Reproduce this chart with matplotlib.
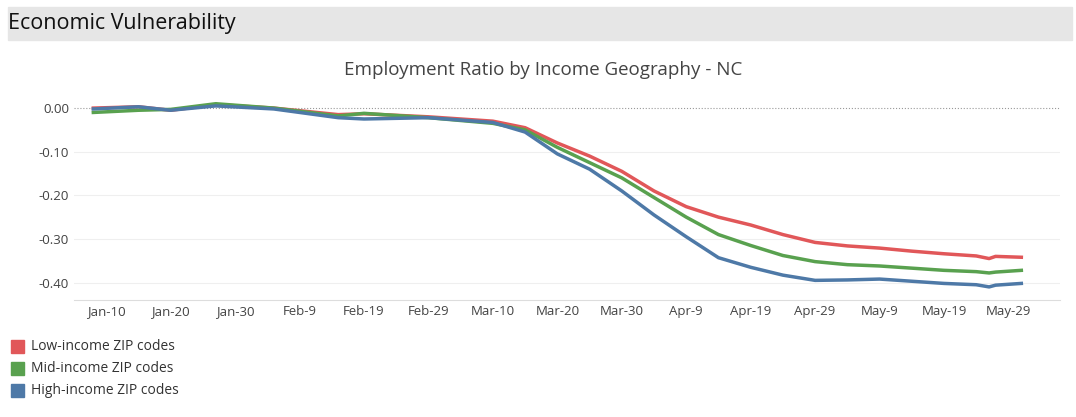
import matplotlib
matplotlib.use("Agg")
import matplotlib.pyplot as plt
from matplotlib.patches import Rectangle
import datetime as dt

dates = ["2020-01-08","2020-01-15","2020-01-20","2020-01-27","2020-02-05","2020-02-15","2020-02-19","2020-02-29",
         "2020-03-10","2020-03-15","2020-03-20","2020-03-25","2020-03-30","2020-04-04","2020-04-09","2020-04-14",
         "2020-04-19","2020-04-24","2020-04-29","2020-05-04","2020-05-09","2020-05-14","2020-05-19","2020-05-24",
         "2020-05-26","2020-05-27","2020-05-31"]
low = [0.0,0.003,-0.005,0.008,0.0,-0.015,-0.013,-0.02,-0.03,-0.045,-0.08,-0.11,-0.145,-0.19,-0.226,-0.25,
       -0.268,-0.29,-0.308,-0.316,-0.321,-0.328,-0.334,-0.339,-0.345,-0.34,-0.342]
mid = [-0.01,-0.005,-0.003,0.01,0.0,-0.018,-0.012,-0.022,-0.035,-0.05,-0.09,-0.125,-0.16,-0.205,-0.25,-0.29,
       -0.315,-0.338,-0.352,-0.359,-0.362,-0.367,-0.372,-0.375,-0.378,-0.376,-0.372]
high = [-0.002,0.003,-0.005,0.005,-0.002,-0.022,-0.025,-0.022,-0.033,-0.055,-0.105,-0.14,-0.19,-0.245,-0.295,-0.343,
        -0.365,-0.383,-0.395,-0.394,-0.392,-0.397,-0.402,-0.405,-0.41,-0.406,-0.402]
series = [("Low-income ZIP codes", low, "#e15759"),
          ("Mid-income ZIP codes", mid, "#59a14f"),
          ("High-income ZIP codes", high, "#4e79a7")]
tick_dates = ["2020-01-10","2020-01-20","2020-01-30","2020-02-09","2020-02-19","2020-02-29","2020-03-10",
              "2020-03-20","2020-03-30","2020-04-09","2020-04-19","2020-04-29","2020-05-09","2020-05-19","2020-05-29"]
tick_labels = ["Jan-10","Jan-20","Jan-30","Feb-9","Feb-19","Feb-29","Mar-10","Mar-20","Mar-30",
               "Apr-9","Apr-19","Apr-29","May-9","May-19","May-29"]
yticks = [0.0,-0.1,-0.2,-0.3,-0.4]

plt.rcParams["font.family"] = "Open Sans"
fig = plt.figure(figsize=(10.76,4.17), dpi=100)
fig.patches.append(Rectangle((8/1076, 1-40/417), 1064/1076, 33/417, transform=fig.transFigure, color="#e6e6e6", zorder=0))
fig.text(8/1076, 1-24/417, "Economic Vulnerability", fontsize=15.5, va="center", color="#111")
fig.text(0.505, 1-70/417, "Employment Ratio by Income Geography - NC", fontsize=13.5, ha="center", va="center", color="#444")

ax = fig.add_axes([74/1076, 1-300/417, 986/1076, 205/417])
d = [dt.datetime.strptime(s, "%Y-%m-%d") for s in dates]
for name, vals, c in series:
    ax.plot(d, vals, color=c, lw=2.5)
ax.set_xlim(dt.datetime(2020,1,5), dt.datetime(2020,6,6))
ax.set_ylim(-0.44, 0.03)
ax.set_xticks([dt.datetime.strptime(s, "%Y-%m-%d") for s in tick_dates])
ax.set_xticklabels(tick_labels, fontsize=9.5, color="#444")
ax.set_yticks(yticks)
ax.set_yticklabels(["%.2f" % v for v in yticks], fontsize=9.5, color="#444")
ax.tick_params(length=0)
for y in yticks[1:]:
    ax.axhline(y, color="#efefef", lw=0.8, zorder=0)
ax.axhline(0, color="#999", lw=0.8, ls=":", zorder=0)
for s in ["top","right","left"]:
    ax.spines[s].set_visible(False)
ax.spines["bottom"].set_color("#ddd")

for i, (name, vals, c) in enumerate(series):
    y = 1 - (347 + 22*i)/417
    fig.patches.append(Rectangle((11/1076, y-6/417), 13/1076, 13/417, transform=fig.transFigure, color=c))
    fig.text(31/1076, y, name, fontsize=10, va="center", color="#333")

fig.savefig("out.png", dpi=100)
